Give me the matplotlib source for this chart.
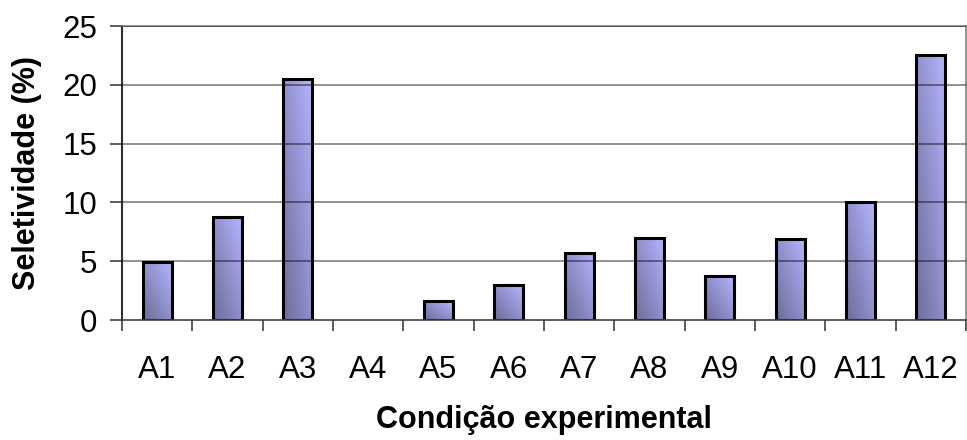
import numpy as np
import matplotlib
matplotlib.use("Agg")
import matplotlib.pyplot as plt
from matplotlib.colors import LinearSegmentedColormap

plt.rcParams['font.family'] = ['Liberation Sans', 'DejaVu Sans']

# data
categorias = ['A1', 'A2', 'A3', 'A4', 'A5', 'A6', 'A7', 'A8', 'A9', 'A10', 'A11', 'A12']
seletividade = [4.9, 8.8, 20.5, 0.0, 1.6, 3.0, 5.7, 7.0, 3.7, 6.9, 10.0, 22.5]

fig = plt.figure(figsize=(9.67, 4.4), dpi=100)
ax = fig.add_axes([122 / 967, 120 / 440, 844 / 967, 294 / 440])

x = np.arange(len(categorias))
bars = ax.bar(x, seletividade, width=0.41, facecolor='none', edgecolor='black',
              linewidth=2.2, zorder=3)

# diagonal gradient, dark bottom-left to light top-right
cmap = LinearSegmentedColormap.from_list('grad', ['#6c6c98', '#b4b4ff'])
u, v = np.meshgrid(np.linspace(0, 1, 60), np.linspace(0, 1, 200))
grad = (u + v) / 2
for b in bars:
    h = b.get_height()
    if h <= 0:
        b.set_linewidth(0)
        continue
    x0 = b.get_x()
    w = b.get_width()
    im = ax.imshow(grad, cmap=cmap, origin='lower', aspect='auto',
                   extent=[x0, x0 + w, 0, h], zorder=2, interpolation='bilinear')
    im.set_clip_path(b)

ax.set_xlim(-0.5, len(categorias) - 0.5)
ax.set_ylim(0, 25)
ax.set_yticks(np.arange(0, 26, 5))

# gridlines drawn over the bars
for yv in np.arange(5, 26, 5):
    ax.axhline(yv, color='black', alpha=0.5, linewidth=1.2, zorder=4)

ax.set_xticks(x)
ax.set_xticklabels(categorias)
ax.set_xticks(np.arange(-0.5, len(categorias), 1.0), minor=True)
ax.tick_params(axis='x', which='major', length=0, pad=25, labelsize=22.5)
ax.tick_params(axis='x', which='minor', length=8, width=1.2, color='#404040', direction='out')
ax.tick_params(axis='y', length=9, width=1.2, color='#404040', pad=9, labelsize=22.5)

ax.spines['left'].set_color('#303030')
ax.spines['left'].set_linewidth(1.5)
ax.spines['bottom'].set_color('#404040')
ax.spines['bottom'].set_linewidth(1.2)
ax.spines['top'].set_color('#808080')
ax.spines['top'].set_linewidth(1.2)
ax.spines['right'].set_color('#808080')
ax.spines['right'].set_linewidth(1.2)
ax.spines['bottom'].set_zorder(5)

ax.set_ylabel('Seletividade (%)', fontsize=22, fontweight='bold')
ax.yaxis.set_label_coords(-0.095, 0.5)
ax.set_xlabel('Condição experimental', fontsize=22, fontweight='bold')
ax.xaxis.set_label_coords(0.5, -0.29)

fig.savefig('out.png', dpi=100)
